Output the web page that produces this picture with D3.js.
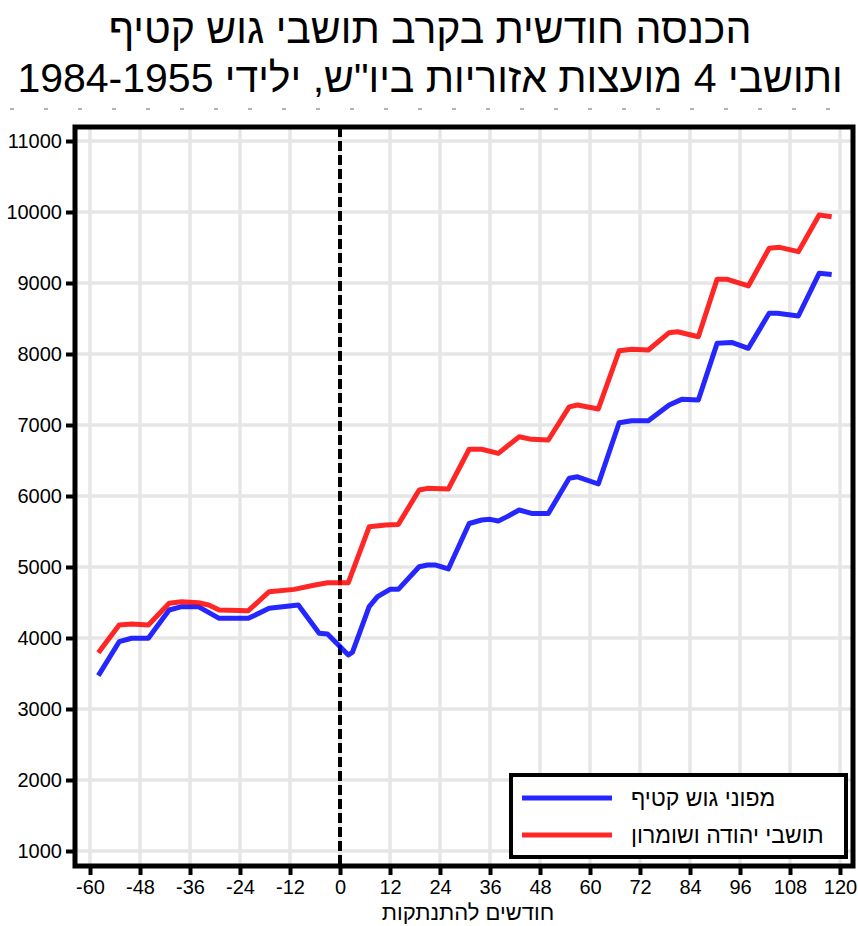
<!DOCTYPE html>
<html>
<head>
<meta charset="utf-8">
<script src="https://cdn.jsdelivr.net/npm/d3@7"></script>
<style>
body { margin: 0; background: #fff; }
svg { font-family: "Liberation Sans", Arial, sans-serif; }
</style>
</head>
<body>
<div id="chart"></div>
<script>
// data
titleLines = ["הכנסה חודשית בקרב תושבי גוש קטיף", "ותושבי 4 מועצות אזוריות ביו\"ש, ילידי 1984-1955"]
xLabel = "חודשים להתנתקות"
seriesNames = ["מפוני גוש קטיף", "תושבי יהודה ושומרון"]
seriesColors = ["#0000ff", "#ff0000"]
xTicks = [-60, -48, -36, -24, -12, 0, 12, 24, 36, 48, 60, 72, 84, 96, 108, 120]
yTicks = [1000, 2000, 3000, 4000, 5000, 6000, 7000, 8000, 9000, 10000, 11000]

gushMonths = [-58, -53, -50, -46, -41, -38, -34, -29, -22, -17, -10, -5, -3, 2, 3, 7, 9, 12, 14, 19, 21, 23, 26, 31, 34, 36, 38, 40, 43, 46, 50, 55, 57, 62, 67, 70, 74, 79, 82, 86, 90.5, 94, 98, 103, 105, 110, 115, 118]
gushValues = [3470, 3948, 3996, 3996, 4394, 4441, 4441, 4277, 4277, 4418, 4465, 4066, 4056, 3760, 3800, 4441, 4582, 4685, 4685, 5003, 5028, 5028, 4972, 5613, 5662, 5671, 5648, 5706, 5803, 5754, 5754, 6249, 6270, 6169, 7032, 7060, 7060, 7282, 7361, 7352, 8150, 8163, 8080, 8573, 8573, 8535, 9136, 9121]

yoshMonths = [-58, -53, -50, -46, -41, -38, -34, -31.5, -29, -22, -17, -11, -6, -3, 2, 7, 11, 14, 19, 21, 26, 31, 34, 38, 43, 46, 50, 55, 57, 62, 67, 70, 74, 79, 81, 86, 90.5, 93, 98, 103, 105.5, 110, 115, 118]
yoshValues = [3793, 4183, 4197, 4183, 4488, 4511, 4497, 4465, 4394, 4385, 4652, 4685, 4746, 4779, 4779, 5566, 5592, 5600, 6085, 6108, 6099, 6658, 6658, 6600, 6835, 6798, 6789, 7256, 7282, 7226, 8046, 8066, 8056, 8300, 8313, 8243, 9052, 9052, 8958, 9489, 9502, 9441, 9958, 9934]

width = 858
height = 926
panel = ({left: 75, right: 853, top: 127, bottom: 866})

series = [
    {name: seriesNames[0], color: seriesColors[0], points: gushMonths.map((m, i) => [m, gushValues[i]])},
    {name: seriesNames[1], color: seriesColors[1], points: yoshMonths.map((m, i) => [m, yoshValues[i]])}
]

x = d3.scaleLinear().domain([-60, 120]).range([90, 840])
xMin = x.invert(panel.left)
xMax = x.invert(panel.right)
x.domain([xMin, xMax]).range([panel.left, panel.right])

y = d3.scaleLinear().domain([1000, 11000]).range([851, 141])
y.domain([y.invert(panel.bottom), y.invert(panel.top)]).range([panel.bottom, panel.top])

var svg = d3.select("#chart").append("svg")
    .attr("width", width)
    .attr("height", height)
    .attr("viewBox", [0, 0, width, height])

svg.append("rect").attr("width", width).attr("height", height).attr("fill", "#fff")

// title
svg.append("g")
    .selectAll("text")
    .data(titleLines)
    .enter().append("text")
    .attr("x", 430)
    .attr("y", (d, i) => 43 + i * 49)
    .attr("text-anchor", "middle")
    .style("font-size", "41px")
    .attr("fill", "#000")
    .text(d => d)

// clipped remains of a subtitle line
svg.append("line")
    .attr("x1", 10).attr("x2", 850)
    .attr("y1", 109).attr("y2", 109)
    .attr("stroke", "#9a9a9a")
    .attr("stroke-width", 1.5)
    .attr("stroke-dasharray", "4,30")

// grid
const grid = svg.append("g")
grid.selectAll(".gx")
    .data(xTicks)
    .enter().append("line")
    .attr("x1", d => x(d)).attr("x2", d => x(d))
    .attr("y1", panel.top).attr("y2", panel.bottom)
    .attr("stroke", "#e6e6e6")
    .attr("stroke-width", 3.5)
grid.selectAll(".gy")
    .data(yTicks)
    .enter().append("line")
    .attr("x1", panel.left).attr("x2", panel.right)
    .attr("y1", d => y(d)).attr("y2", d => y(d))
    .attr("stroke", "#e6e6e6")
    .attr("stroke-width", 3.5)

// disengagement line
svg.append("line")
    .attr("x1", x(0)).attr("x2", x(0))
    .attr("y1", panel.top).attr("y2", panel.bottom)
    .attr("stroke", "#000")
    .attr("stroke-width", 4)
    .attr("stroke-dasharray", "10,4")

const line = d3.line()
    .x(d => x(d[0]))
    .y(d => y(d[1]))

svg.append("g")
    .selectAll("path")
    .data(series)
    .enter().append("path")
    .attr("d", d => line(d.points))
    .attr("fill", "none")
    .attr("stroke", d => d.color)
    .attr("stroke-opacity", 0.85)
    .attr("stroke-width", 5)
    .attr("stroke-linejoin", "round")

// axes
xAxis = d3.axisBottom(x).tickValues(xTicks).tickSize(9).tickPadding(5).tickFormat(d => String(d))
yAxis = d3.axisLeft(y).tickValues(yTicks).tickSize(9).tickPadding(4).tickFormat(d => String(d))

const gx = svg.append("g")
    .attr("transform", `translate(0,${panel.bottom})`)
    .call(xAxis)
gx.select(".domain").remove()
gx.selectAll("line").attr("stroke", "#000").attr("stroke-width", 4)
gx.selectAll("text").attr("fill", "#000").style("font-size", "20px").style("font-family", "Liberation Sans, Arial, sans-serif")

const gy = svg.append("g")
    .attr("transform", `translate(${panel.left},0)`)
    .call(yAxis)
gy.select(".domain").remove()
gy.selectAll("line").attr("stroke", "#000").attr("stroke-width", 4)
gy.selectAll("text").attr("fill", "#000").style("font-size", "20px").style("font-family", "Liberation Sans, Arial, sans-serif")

svg.append("text")
    .attr("x", 468)
    .attr("y", 920)
    .attr("text-anchor", "middle")
    .style("font-size", "22px")
    .text(xLabel)

// legend
const lg = svg.append("g")
lg.append("rect")
    .attr("x", 511).attr("y", 775)
    .attr("width", 335).attr("height", 82)
    .attr("fill", "#fff")
    .attr("stroke", "#000")
    .attr("stroke-width", 4)
const entry = lg.selectAll(".entry")
    .data(series)
    .enter().append("g")
    .attr("transform", (d, i) => `translate(0,${798 + i * 37})`)
entry.append("line")
    .attr("x1", 522).attr("x2", 612)
    .attr("stroke", d => d.color)
    .attr("stroke-opacity", 0.85)
    .attr("stroke-width", 5)
entry.append("text")
    .attr("x", 631)
    .attr("dy", "0.35em")
    .attr("direction", "ltr")
    .attr("text-anchor", "start")
    .style("font-size", "23px")
    .text(d => d.name)

// panel border
svg.append("rect")
    .attr("x", panel.left).attr("y", panel.top)
    .attr("width", panel.right - panel.left)
    .attr("height", panel.bottom - panel.top)
    .attr("fill", "none")
    .attr("stroke", "#000")
    .attr("stroke-width", 5)
</script>
</body>
</html>
